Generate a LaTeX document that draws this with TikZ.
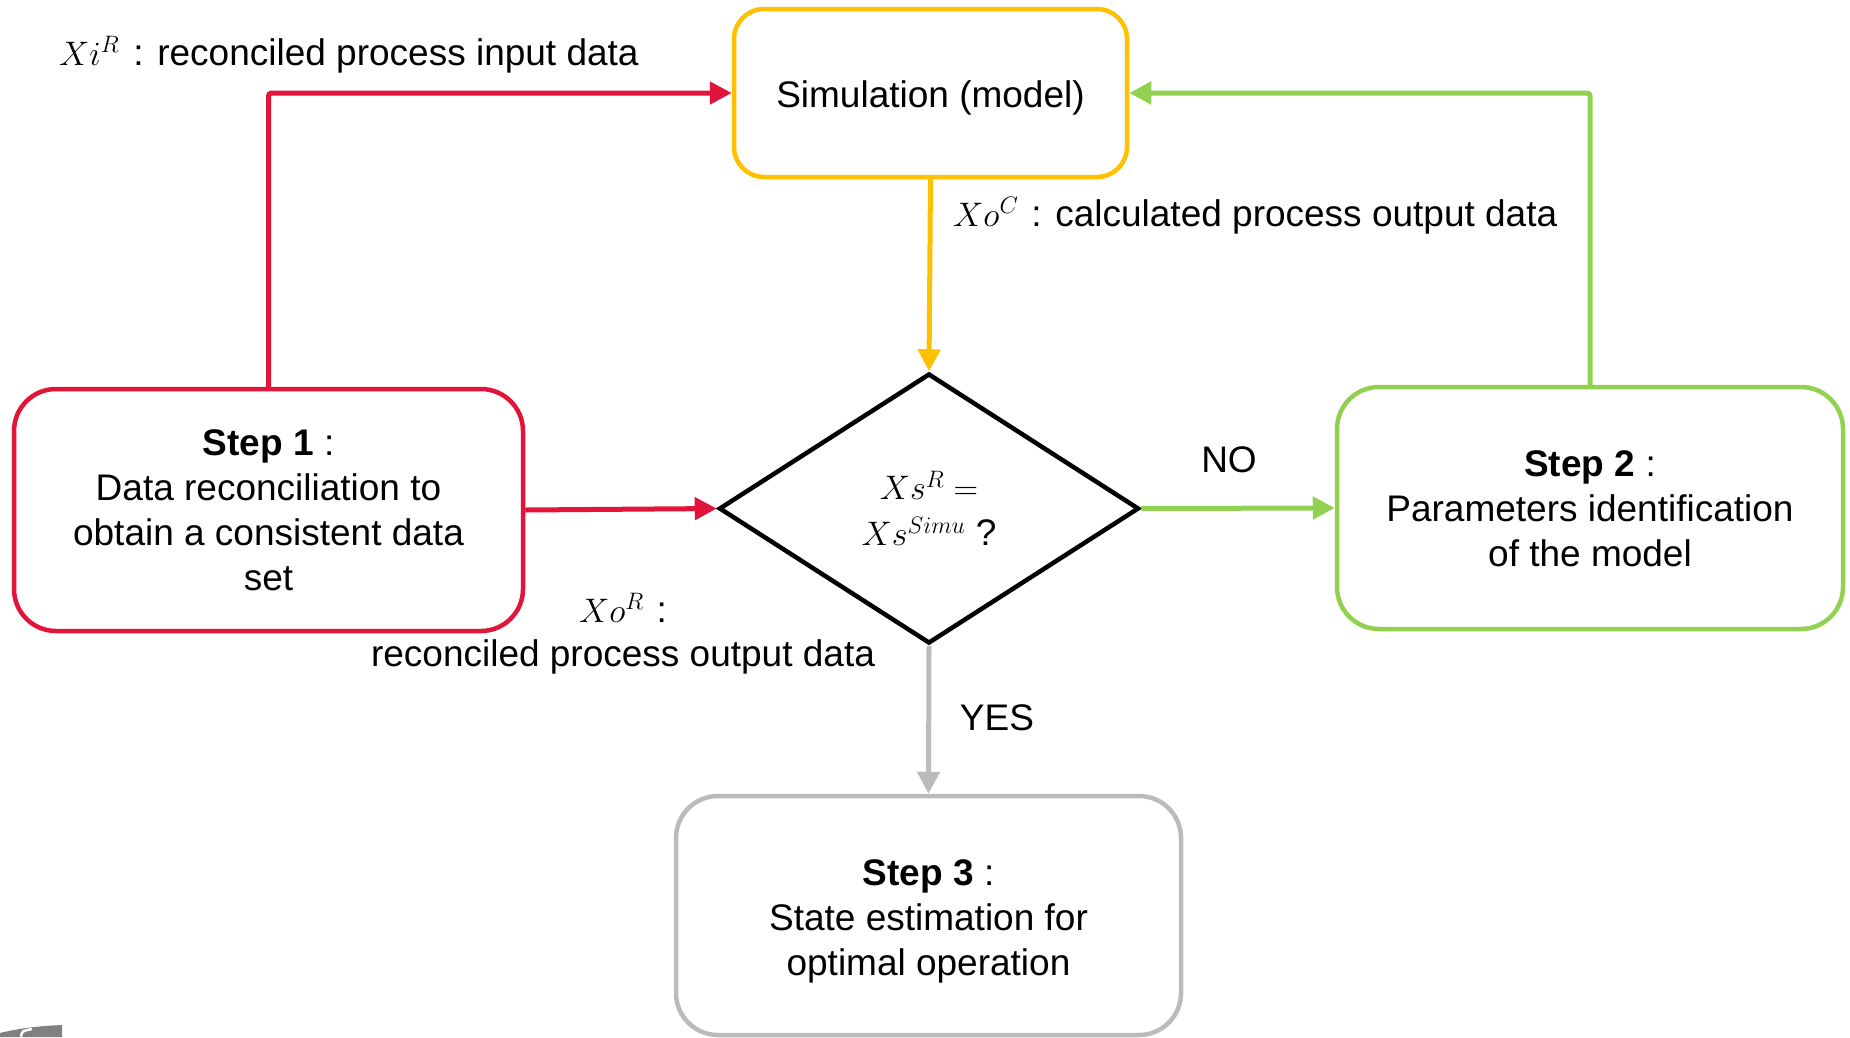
\RequirePackage{fix-cm}
\documentclass[tikz,border=0pt]{standalone}
\usepackage{fontspec}
\setmainfont{Liberation Sans}
\usetikzlibrary{arrows.meta,shapes.geometric}

\definecolor{flowred}{RGB}{226,20,58}
\definecolor{flowyellow}{RGB}{255,192,0}
\definecolor{flowgreen}{RGB}{146,208,80}
\definecolor{flowgray}{RGB}{187,187,187}
\definecolor{logogray}{RGB}{128,128,128}

% math symbols set a little smaller than the sans text
\newcommand{\mth}[1]{{\fontsize{34}{40}\selectfont$#1$}}

\tikzset{
  flowbox/.style={draw, line width=4.5pt, fill=white, align=center, inner sep=0pt},
  decision/.style={diamond, draw=black, line width=4.5pt, fill=white, align=center,
    inner sep=0pt, minimum width=420pt, minimum height=270pt},
  flowline/.style={line width=5pt, rounded corners=3pt,
    -{Triangle[length=22pt,width=22pt]}},
  lbl/.style={inner sep=0pt}
}

\begin{document}
\begin{tikzpicture}[x=1pt,y=-1pt,
  every node/.style={font=\fontsize{37}{45}\selectfont, text=black}]
\useasboundingbox (0,0) rectangle (1850,1037);

% process blocks (text height nudges each text block slightly downwards)
\node[flowbox, draw=flowyellow, rounded corners=30pt, text height=37pt,
      minimum width=393pt, minimum height=168pt] (sim) at (930.5,93) {Simulation (model)};
\node[decision] (dec) at (929,508.5)
  {\mth{Xs^{R}=}\\[1pt]\mth{Xs^{Simu}}~?};
\node[flowbox, draw=flowred, rounded corners=42pt, text height=162pt,
      minimum width=509pt, minimum height=242pt] (s1) at (268.5,510)
  {\textbf{Step 1} :\\Data reconciliation to\\obtain a consistent data\\set};
\node[flowbox, draw=flowgreen, rounded corners=42pt, text height=118pt,
      minimum width=506pt, minimum height=242pt] (s2) at (1590,508)
  {\textbf{Step 2} :\\Parameters identification\\of the model};
\node[flowbox, draw=flowgray, rounded corners=42pt, text height=128pt,
      minimum width=505pt, minimum height=239pt] (s3) at (928.5,915.5)
  {\textbf{Step 3} :\\State estimation for\\optimal operation};

% connectors
\draw[flowline, flowred] (s1.north) -- (s1.north |- sim.west) -- (sim.west);
\draw[flowline, flowred] (s1.east) -- (dec.west);
\draw[flowline, flowyellow] (sim.south) -- (dec.north);
\draw[flowline, flowgreen] (dec.east) -- (s2.west);
\draw[flowline, flowgreen] (s2.north) -- (s2.north |- sim.east) -- (sim.east);
\draw[flowline, flowgray] (dec.south) -- (s3.north);

% data labels
\node[lbl, anchor=base west] (lblin) at (59,65)
  {\mth{Xi^{R}}\hspace{0.38em}: reconciled process input data};
\node[lbl, anchor=base west] (lblcalc) at (953,226)
  {\mth{Xo^{C}}\hspace{0.35em}: calculated process output data};
\node[lbl, anchor=base, align=center] (lblrec) at (623,666)
  {\mth{Xo^{R}}\hspace{0.35em}:\\[-1pt]reconciled process output data};
\node[lbl, anchor=base] (lblno) at (1229,472) {NO};
\node[lbl, anchor=base] (lblyes) at (997,730) {YES};

% clipped logo corner
\fill[logogray] (0,1037) -- (0,1033) .. controls (20,1028) and (40,1026) .. (62,1025)
  -- (62,1037) -- cycle;
\draw[white, line width=2.5pt] (21,1037) .. controls (22,1031) .. (32,1029);
\end{tikzpicture}
\end{document}
